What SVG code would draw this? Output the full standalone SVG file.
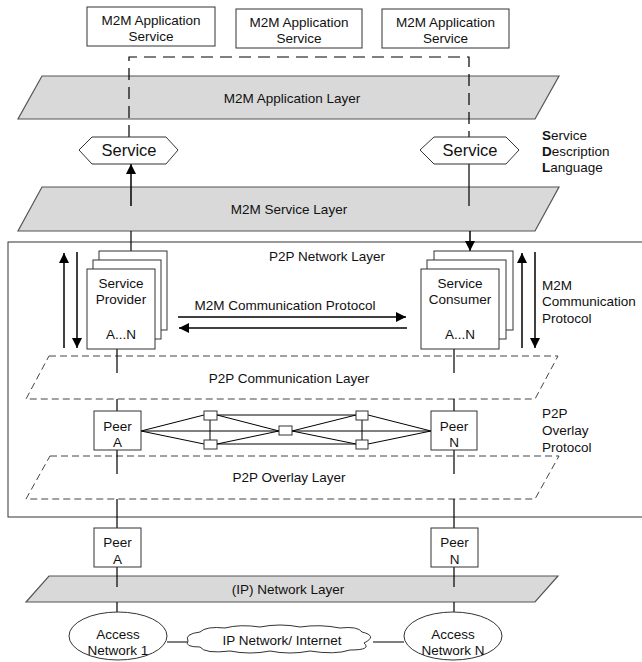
<svg xmlns="http://www.w3.org/2000/svg" width="642" height="662" viewBox="0 0 642 662">
<defs>
<marker id="ah" viewBox="0 0 10 10" refX="10" refY="5" markerWidth="10" markerHeight="10" markerUnits="userSpaceOnUse" orient="auto">
<path d="M0,0 L10,5 L0,10 Z" fill="#000"/>
</marker>
</defs>
<style>
text{font-family:"Liberation Sans",Arial,sans-serif;font-size:13.5px;fill:#111;}
.c{text-anchor:middle;}
.box{fill:#fff;stroke:#333;stroke-width:1;}
.layer{fill:#d9d9d9;stroke:#555;stroke-width:1.2;}
.dlayer{fill:none;stroke:#444;stroke-width:1;stroke-dasharray:7,4;}
.ln{stroke:#000;stroke-width:1.2;fill:none;}
.arr{stroke:#000;stroke-width:1.5;fill:none;marker-end:url(#ah);}
.sq{fill:#fff;stroke:#333;stroke-width:1;}
.hex{fill:#fff;stroke:#333;stroke-width:1;}
.big{font-size:16.5px;}
</style>
<rect x="8" y="242" width="640" height="275" fill="#fff" stroke="#333" stroke-width="1"/>
<g id="app-layer"><polygon class="layer" points="42,76 559,76 535,119 18,119"/><text class="c" x="292" y="103">M2M Application Layer</text></g>
<g id="service-layer"><polygon class="layer" points="42,187 559,187 535,231 18,231"/><text class="c" x="289" y="214">M2M Service Layer</text></g>
<g id="p2p-comm-layer"><polygon class="dlayer" points="49,356 558,356 535,399 26,399"/><text class="c" x="289" y="383">P2P Communication Layer</text></g>
<g id="p2p-overlay-layer"><polygon class="dlayer" points="50,456 559,456 535,499 26,499"/><text class="c" x="289" y="482">P2P Overlay Layer</text></g>
<g id="ip-layer"><polygon class="layer" points="49,576 558,576 535,602 26,602"/><text class="c" x="288" y="594">(IP) Network Layer</text></g>
<g id="labels">
<text x="327" y="261" class="c">P2P Network Layer</text>
<text x="542" y="140"><tspan font-weight="bold">S</tspan>ervice</text>
<text x="542" y="156"><tspan font-weight="bold">D</tspan>escription</text>
<text x="542" y="172"><tspan font-weight="bold">L</tspan>anguage</text>
<text x="542" y="290">M2M</text>
<text x="542" y="306">Communication</text>
<text x="542" y="323">Protocol</text>
<text x="542" y="418">P2P</text>
<text x="542" y="435">Overlay</text>
<text x="542" y="452">Protocol</text>
<text x="285" y="310" class="c">M2M Communication Protocol</text>
</g>
<g id="connectors">
<path d="M129,137 V57 H469 V137" fill="none" stroke="#000" stroke-width="1.2" stroke-dasharray="12,7"/>
<line class="arr" x1="131" y1="206" x2="131" y2="164"/>
<line class="ln" x1="469" y1="164" x2="469" y2="206"/>
<line class="ln" x1="131" y1="231" x2="131" y2="251"/>
<line class="arr" x1="470" y1="231" x2="470" y2="251"/>
<line class="arr" x1="64" y1="348" x2="64" y2="253"/>
<line class="arr" x1="77" y1="252" x2="77" y2="348"/>
<line class="arr" x1="522" y1="348" x2="522" y2="253"/>
<line class="arr" x1="535" y1="252" x2="535" y2="348"/>
<line class="arr" x1="178" y1="317" x2="406" y2="317"/>
<line class="arr" x1="407" y1="328" x2="179" y2="328"/>
<path class="ln" d="M117,349 V373 M117,399 V411 M117,450 V474 M117,499 V528 M117,567 V587 M117,602 V613"/>
<path class="ln" d="M454,349 V373 M454,399 V411 M454,450 V474 M454,499 V528 M454,567 V587 M454,602 V612"/>
<path class="ln" d="M167,642 H188 M373,642 H404"/>
<g stroke="#000" stroke-width="1" fill="none">
<path d="M141,431 H431"/>
<path d="M141,431 L204,415 M141,431 L204,444"/>
<path d="M210,419 V440 M362,419 V440"/>
<path d="M217,415 H356 M217,444 H356"/>
<path d="M217,415 L279,431 M217,444 L279,431 M292,431 L356,415 M292,431 L356,444"/>
<path d="M368,415 L431,431 M368,444 L431,431"/>
</g>
</g>
<g id="app-service-1"><rect class="box" x="87" y="7" width="128" height="39"/><text class="c" x="151" y="25">M2M Application</text><text class="c" x="151" y="41">Service</text></g>
<g id="app-service-2"><rect class="box" x="236" y="9" width="126" height="39"/><text class="c" x="299" y="27">M2M Application</text><text class="c" x="299" y="43">Service</text></g>
<g id="app-service-3"><rect class="box" x="382" y="9" width="127" height="39"/><text class="c" x="445.5" y="27">M2M Application</text><text class="c" x="445.5" y="43">Service</text></g>
<g id="service-left"><polygon class="hex" points="79,150 92,137 166,137 178,150 166,164 92,164"/><text class="c big" x="129" y="156">Service</text></g>
<g id="service-right"><polygon class="hex" points="420,150 434,137 506,137 519,150 506,164 434,164"/><text class="c big" x="470" y="156">Service</text></g>
<g id="service-provider">
<rect class="box" x="99" y="251" width="68" height="79"/>
<rect class="box" x="93" y="260" width="68" height="79"/>
<rect class="box" x="87" y="269" width="68" height="80"/>
<text class="c" x="121" y="288">Service</text><text class="c" x="121" y="304">Provider</text><text class="c" x="121" y="339">A...N</text>
</g>
<g id="service-consumer">
<rect class="box" x="434" y="251" width="79" height="79"/>
<rect class="box" x="427" y="260" width="79" height="79"/>
<rect class="box" x="421" y="269" width="78" height="80"/>
<text class="c" x="460" y="288">Service</text><text class="c" x="460" y="304">Consumer</text><text class="c" x="460" y="339">A...N</text>
</g>
<g id="overlay-nodes">
<rect class="sq" x="204" y="411" width="13" height="9"/>
<rect class="sq" x="204" y="440" width="13" height="9"/>
<rect class="sq" x="279" y="426" width="13" height="9"/>
<rect class="sq" x="356" y="411" width="12" height="9"/>
<rect class="sq" x="356" y="440" width="12" height="9"/>
</g>
<g id="peer-a-overlay"><rect class="box" x="94" y="411" width="47" height="39"/><text class="c" x="117.5" y="431">Peer</text><text class="c" x="117.5" y="447">A</text></g>
<g id="peer-n-overlay"><rect class="box" x="431" y="411" width="46" height="39"/><text class="c" x="454" y="431">Peer</text><text class="c" x="454" y="447">N</text></g>
<g id="peer-a"><rect class="box" x="94" y="528" width="47" height="39"/><text class="c" x="117.5" y="547">Peer</text><text class="c" x="117.5" y="564">A</text></g>
<g id="peer-n"><rect class="box" x="431" y="528" width="47" height="39"/><text class="c" x="454.5" y="547">Peer</text><text class="c" x="454.5" y="564">N</text></g>
<g id="access-1"><ellipse cx="118" cy="636" rx="49" ry="24" fill="#fff" stroke="#333"/><text class="c" x="118" y="639">Access</text><text class="c" x="118" y="655">Network 1</text></g>
<g id="access-n"><ellipse cx="453" cy="636" rx="49" ry="24" fill="#fff" stroke="#333"/><text class="c" x="453" y="639">Access</text><text class="c" x="453" y="655">Network N</text></g>
<g id="ip-internet">
<path d="M188,641 Q184,634 200,632 Q206,626 225,628 Q240,624 260,627 Q280,623 300,627 Q320,624 340,628 Q358,626 362,632 Q378,636 364,643 Q372,650 350,650 Q335,655 310,651 Q290,655 270,651 Q250,655 230,651 Q205,654 200,647 Q184,647 188,641 Z" fill="#fff" stroke="#333"/>
<text class="c" x="282" y="645">IP Network/ Internet</text>
</g>
</svg>
